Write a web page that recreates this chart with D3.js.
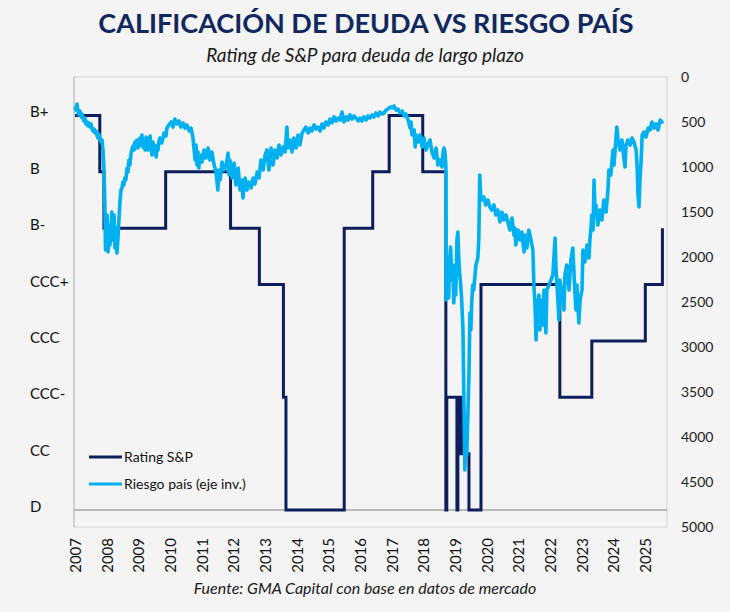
<!DOCTYPE html>
<html>
<head>
<meta charset="utf-8">
<script src="https://cdn.jsdelivr.net/npm/d3@7"></script>
<style>
  html, body { margin: 0; padding: 0; background: #f4f4f4; }
  body { width: 730px; height: 612px; overflow: hidden; font-family: Lato, "Open Sans", sans-serif; }
  .axis path, .axis line { display: none; }
</style>
</head>
<body>
<div id="chart"></div>
<script>
// rating categories, D (0) .. B+ (7)
var ratingLabels = ["D", "CC", "CCC-", "CCC", "CCC+", "B-", "B", "B+"];

// S&P rating steps: [decimal year, rating index]
var ratingSteps = [
  [2006.95, 7], [2007.73, 6], [2007.86, 5], [2009.81, 6], [2011.86, 5],
  [2012.77, 4], [2013.53, 2], [2013.61, 0], [2015.45, 5], [2016.35, 6],
  [2016.87, 7], [2017.93, 6], [2018.66, 0], [2018.69, 2], [2019.01, 0],
  [2019.04, 2], [2019.09, 1], [2019.12, 2], [2019.20, 1], [2019.39, 0],
  [2019.77, 4], [2022.26, 2], [2023.27, 3], [2024.96, 4], [2025.50, 5]
];

// riesgo país (EMBI, bps): [decimal year, value]
var riesgoPais = [
  [2006.95,322],[2006.98,367],[2007.01,300],[2007.04,389],[2007.07,422],[2007.10,378],[2007.14,444],[2007.17,411],
  [2007.20,467],[2007.23,489],[2007.26,456],[2007.29,522],[2007.33,500],[2007.36,544],[2007.39,511],[2007.42,556],
  [2007.45,522],[2007.48,567],[2007.51,600],[2007.55,578],[2007.58,622],[2007.61,600],[2007.64,644],[2007.67,678],
  [2007.70,633],[2007.74,689],[2007.77,722],[2007.80,700],[2007.83,811],[2007.86,1011],[2007.89,1422],[2007.91,1922],
  [2007.93,1756],[2007.96,1533],[2007.99,1944],[2008.02,1644],[2008.05,1867],[2008.08,1722],[2008.11,1500],[2008.15,1811],
  [2008.18,1533],[2008.21,1900],[2008.24,1678],[2008.27,1956],[2008.30,1811],[2008.33,1611],[2008.37,1367],[2008.40,1256],
  [2008.43,1233],[2008.46,1167],[2008.49,1200],[2008.52,1122],[2008.55,1144],[2008.59,1011],[2008.62,1056],[2008.65,922],
  [2008.68,978],[2008.71,867],[2008.74,811],[2008.78,767],[2008.81,811],[2008.84,722],[2008.87,767],[2008.90,700],
  [2008.93,789],[2008.97,733],[2009.00,678],[2009.03,756],[2009.06,644],[2009.09,778],[2009.13,700],[2009.16,811],
  [2009.19,667],[2009.22,733],[2009.25,811],[2009.28,700],[2009.32,656],[2009.35,789],[2009.38,867],[2009.41,722],
  [2009.44,833],[2009.47,767],[2009.51,889],[2009.54,756],[2009.57,811],[2009.60,711],[2009.63,678],[2009.69,733],
  [2009.76,622],[2009.82,656],[2009.85,567],[2009.91,533],[2009.98,500],[2010.04,556],[2010.10,467],[2010.17,522],
  [2010.23,489],[2010.29,556],[2010.36,511],[2010.42,567],[2010.48,533],[2010.55,600],[2010.61,567],[2010.67,667],
  [2010.71,811],[2010.74,922],[2010.77,756],[2010.80,978],[2010.83,833],[2010.86,1011],[2010.89,867],[2010.96,944],
  [2011.02,811],[2011.08,900],[2011.15,789],[2011.21,922],[2011.27,833],[2011.34,978],[2011.40,1056],[2011.46,1256],
  [2011.49,1033],[2011.53,1144],[2011.59,944],[2011.65,1033],[2011.72,978],[2011.78,844],[2011.81,1089],[2011.84,922],
  [2011.91,1122],[2011.97,956],[2012.03,1200],[2012.10,1011],[2012.16,1256],[2012.22,1144],[2012.25,1344],[2012.32,1122],
  [2012.38,1256],[2012.44,1167],[2012.51,1233],[2012.57,1122],[2012.63,1189],[2012.70,1056],[2012.76,1122],[2012.82,922],
  [2012.89,1033],[2012.95,867],[2013.01,811],[2013.07,1033],[2013.14,789],[2013.20,978],[2013.26,811],[2013.33,900],
  [2013.39,756],[2013.45,867],[2013.52,778],[2013.58,833],[2013.64,556],[2013.67,789],[2013.74,700],[2013.80,833],
  [2013.86,678],[2013.93,789],[2013.99,644],[2014.05,756],[2014.12,622],[2014.18,589],[2014.24,556],[2014.31,622],
  [2014.37,567],[2014.43,600],[2014.50,533],[2014.56,578],[2014.62,556],[2014.69,600],[2014.75,522],[2014.81,567],
  [2014.87,500],[2014.94,533],[2015.00,467],[2015.06,511],[2015.13,444],[2015.19,489],[2015.25,456],[2015.32,478],
  [2015.38,389],[2015.44,500],[2015.51,444],[2015.57,478],[2015.63,422],[2015.70,467],[2015.76,433],[2015.82,456],
  [2015.89,489],[2015.95,456],[2016.01,489],[2016.07,444],[2016.14,478],[2016.20,433],[2016.26,456],[2016.33,422],
  [2016.39,444],[2016.45,400],[2016.52,433],[2016.58,389],[2016.64,411],[2016.71,400],[2016.77,367],[2016.83,356],
  [2016.90,333],[2016.96,344],[2017.02,322],[2017.09,367],[2017.15,356],[2017.21,400],[2017.28,378],[2017.34,433],
  [2017.40,411],[2017.47,478],[2017.53,567],[2017.56,500],[2017.59,644],[2017.66,589],[2017.69,778],[2017.72,644],
  [2017.78,722],[2017.84,644],[2017.91,778],[2017.97,678],[2018.03,811],[2018.09,756],[2018.16,700],[2018.22,833],
  [2018.29,900],[2018.35,789],[2018.41,978],[2018.47,922],[2018.54,1000],[2018.57,844],[2018.60,789],[2018.63,833],
  [2018.66,978],[2018.67,2478],[2018.69,2311],[2018.72,2144],[2018.75,2456],[2018.78,2033],[2018.81,1889],[2018.85,2256],
  [2018.88,2089],[2018.91,2511],[2018.94,2278],[2018.97,2422],[2019.01,1811],[2019.04,1722],[2019.07,2033],[2019.10,2200],
  [2019.13,2311],[2019.16,2478],[2019.20,2811],[2019.23,3589],[2019.26,4367],[2019.29,4033],[2019.32,4200],[2019.36,3700],
  [2019.39,3311],[2019.42,2622],[2019.45,2811],[2019.48,2478],[2019.51,2311],[2019.54,2367],[2019.61,2089],[2019.67,2011],
  [2019.70,1811],[2019.73,1089],[2019.76,1311],[2019.80,1367],[2019.86,1333],[2019.92,1422],[2019.99,1367],[2020.05,1444],
  [2020.11,1478],[2020.18,1422],[2020.24,1533],[2020.30,1478],[2020.37,1611],[2020.43,1500],[2020.49,1589],[2020.56,1533],
  [2020.62,1611],[2020.68,1700],[2020.75,1567],[2020.81,1756],[2020.84,1678],[2020.87,1867],[2020.94,1700],[2021.00,1811],
  [2021.06,1722],[2021.13,1944],[2021.16,1756],[2021.22,1900],[2021.28,1700],[2021.35,1811],[2021.41,1922],[2021.44,2311],
  [2021.47,2478],[2021.51,2922],[2021.54,2478],[2021.57,2589],[2021.60,2422],[2021.63,2811],[2021.66,2533],[2021.70,2478],
  [2021.73,2756],[2021.76,2367],[2021.79,2533],[2021.82,2844],[2021.85,2367],[2021.92,2311],[2021.98,2256],[2022.04,2200],
  [2022.11,1789],[2022.14,2144],[2022.17,2311],[2022.20,2478],[2022.23,2700],[2022.26,2256],[2022.33,2422],[2022.39,2589],
  [2022.42,2200],[2022.48,2089],[2022.55,2367],[2022.61,2033],[2022.67,1900],[2022.74,2422],[2022.77,2589],[2022.80,2311],
  [2022.86,2733],[2022.90,2478],[2022.96,2367],[2022.99,1922],[2023.05,2056],[2023.12,1867],[2023.18,2011],[2023.21,1811],
  [2023.24,1700],[2023.27,1533],[2023.31,1700],[2023.34,1144],[2023.37,1478],[2023.40,1422],[2023.46,1644],[2023.53,1478],
  [2023.59,1589],[2023.65,1367],[2023.72,1500],[2023.78,1256],[2023.81,1033],[2023.87,1089],[2023.94,811],[2023.97,978],
  [2024.03,700],[2024.06,556],[2024.10,700],[2024.16,811],[2024.22,700],[2024.29,922],[2024.32,1000],[2024.35,756],
  [2024.41,700],[2024.48,756],[2024.54,678],[2024.60,722],[2024.67,811],[2024.70,978],[2024.73,1311],[2024.76,1444],
  [2024.79,1144],[2024.83,922],[2024.86,644],[2024.92,611],[2024.98,667],[2025.05,567],[2025.11,589],[2025.17,500],
  [2025.24,567],[2025.30,522],[2025.36,589],[2025.43,478],[2025.49,500],[2025.52,489]
];

var years = d3.range(2007, 2026);
var spreadTicks = d3.range(0, 5001, 500);

var width = 730, height = 612;
var margin = { left: 74, right: 63, top: 77, bottom: 85 };

var svg = d3.select("#chart").append("svg")
    .attr("width", width)
    .attr("height", height)
    .style("font-family", "Lato, 'Open Sans', sans-serif");

svg.append("rect").attr("width", width).attr("height", height).attr("fill", "#f4f4f4");

// title + subtitle
svg.append("text")
    .attr("x", 366).attr("y", 33)
    .attr("text-anchor", "middle")
    .attr("font-size", 27).attr("font-weight", "bold")
    .attr("fill", "#10275f")
    .text("CALIFICACIÓN DE DEUDA VS RIESGO PAÍS");

svg.append("text")
    .attr("x", 365).attr("y", 62)
    .attr("text-anchor", "middle")
    .attr("font-size", 19).attr("font-style", "italic")
    .attr("fill", "#1a1a1a")
    .text("Rating de S&P para deuda de largo plazo");

var x0 = margin.left, x1 = width - margin.right;
var y0 = margin.top, y1 = height - margin.bottom;

// scales
var x = d3.scaleLinear().domain([2006.915, 2025.645]).range([x0, x1]);
var yR = d3.scaleLinear().domain([0, 5000]).range([y0, y1]);          // riesgo pais, inverted
var yL = d3.scaleLinear().domain([-0.302, 7.683]).range([y1, y0]);    // rating index

// plot frame
svg.append("rect")
    .attr("x", x0).attr("y", y0)
    .attr("width", x1 - x0).attr("height", y1 - y0)
    .attr("fill", "none").attr("stroke", "#d4d4d4").attr("stroke-width", 1);
svg.append("line")
    .attr("x1", x0).attr("x2", x0).attr("y1", y0).attr("y2", y1)
    .attr("stroke", "#bdbdbd");
svg.append("line")
    .attr("x1", x0).attr("x2", x1).attr("y1", yL(0)).attr("y2", yL(0))
    .attr("stroke", "#a6a6a6").attr("stroke-width", 1.3);

// left axis (rating labels)
svg.append("g")
    .attr("class", "axis")
    .attr("transform", "translate(" + x0 + ",0)")
    .call(d3.axisLeft(yL).tickValues(d3.range(0, 8)).tickSize(0)
        .tickFormat(function(d) { return ratingLabels[d]; }))
    .selectAll("text")
      .attr("x", 30 - x0)
      .attr("dy", "0.1em")
      .attr("text-anchor", "start")
      .attr("font-size", 15)
      .attr("font-family", "Lato, sans-serif")
      .attr("fill", "#111");

// right axis (riesgo pais)
svg.append("g")
    .attr("class", "axis")
    .attr("transform", "translate(" + x1 + ",0)")
    .call(d3.axisRight(yR).tickValues(spreadTicks).tickSize(0).tickPadding(14)
        .tickFormat(d3.format("d")))
    .selectAll("text")
      .attr("font-size", 14)
      .attr("font-family", "Lato, sans-serif")
      .attr("fill", "#222");

// x axis years, rotated
var xg = svg.append("g")
    .attr("class", "axis")
    .attr("transform", "translate(0," + y1 + ")")
    .call(d3.axisBottom(x).tickValues(years).tickSize(0).tickFormat(d3.format("d")));
xg.selectAll("text")
    .attr("font-size", 15)
    .attr("font-family", "Lato, sans-serif")
    .attr("fill", "#111")
    .attr("text-anchor", "end")
    .attr("dominant-baseline", "middle")
    .attr("dy", 0)
    .attr("y", 0)
    .attr("transform", "translate(0,11) rotate(-90)");

// lines
var ratingLine = d3.line()
    .x(function(d) { return x(d[0]); })
    .y(function(d) { return yL(d[1]); })
    .curve(d3.curveStepAfter);

var spreadLine = d3.line()
    .x(function(d) { return x(d[0]); })
    .y(function(d) { return yR(d[1]); });

svg.append("path")
    .datum(ratingSteps)
    .attr("d", ratingLine)
    .attr("fill", "none")
    .attr("stroke", "#0c1f5c")
    .attr("stroke-width", 3)
    .attr("stroke-linejoin", "miter");

svg.append("path")
    .datum(riesgoPais)
    .attr("d", spreadLine)
    .attr("fill", "none")
    .attr("stroke", "#00b0f0")
    .attr("stroke-width", 3.6)
    .attr("stroke-linejoin", "round");

// legend
var legendItems = [
  { label: "Rating S&P", color: "#0c1f5c" },
  { label: "Riesgo país (eje inv.)", color: "#00b0f0" }
];
var legend = svg.append("g")
    .selectAll("g")
    .data(legendItems)
    .enter().append("g")
      .attr("transform", function(d, i) { return "translate(89," + (457 + i * 27) + ")"; });
legend.append("line")
    .attr("x1", 0).attr("x2", 33)
    .attr("stroke", function(d) { return d.color; })
    .attr("stroke-width", 3);
legend.append("text")
    .attr("x", 35)
    .attr("dy", "0.35em")
    .attr("font-size", 14)
    .attr("fill", "#111")
    .text(function(d) { return d.label; });

// source
svg.append("text")
    .attr("x", 365).attr("y", 594)
    .attr("text-anchor", "middle")
    .attr("font-size", 16).attr("font-style", "italic")
    .attr("fill", "#1a1a1a")
    .text("Fuente: GMA Capital con base en datos de mercado");
</script>
</body>
</html>
